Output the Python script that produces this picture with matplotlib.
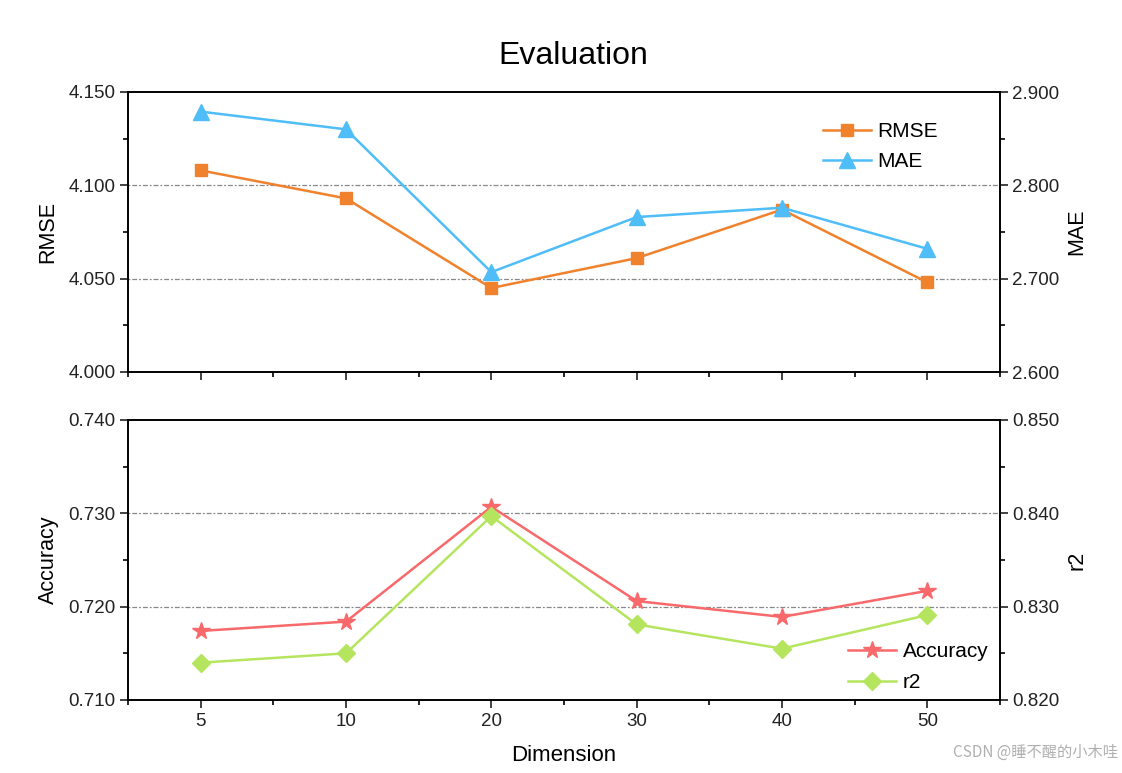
import matplotlib
matplotlib.use("Agg")
import matplotlib.pyplot as plt
from matplotlib.ticker import MultipleLocator, FormatStrFormatter

plt.rcParams['font.family'] = ['Liberation Sans', 'DejaVu Sans']

dims = ["5", "10", "20", "30", "40", "50"]
rmse = [4.108, 4.093, 4.045, 4.061, 4.087, 4.048]
mae = [2.879, 2.860, 2.707, 2.766, 2.776, 2.732]
accuracy = [0.7174, 0.7184, 0.7307, 0.7206, 0.7189, 0.7217]
r2 = [0.8240, 0.8250, 0.8397, 0.8281, 0.8255, 0.8291]

c_rmse = '#F0812D'
c_mae = '#4FBDF7'
c_acc = '#F8696B'
c_r2 = '#B5E55F'

fig = plt.figure(figsize=(11.22, 7.73), dpi=100)
L, R = 128 / 1122, 1000 / 1122
ax1 = fig.add_axes([L, 1 - 372 / 773, R - L, 280 / 773])
ax2 = fig.add_axes([L, 1 - 700 / 773, R - L, 280 / 773])
x = list(range(len(dims)))

def style(ax, twin, ylim, tylim, fmt="%.3f"):
    ax.set_xlim(-0.5, len(dims) - 0.5)
    ax.set_xticks(x)
    ax.xaxis.set_minor_locator(MultipleLocator(0.5))
    ax.set_ylim(*ylim)
    twin.set_ylim(*tylim)
    step = (ylim[1] - ylim[0]) / 3
    tstep = (tylim[1] - tylim[0]) / 3
    ax.yaxis.set_major_locator(MultipleLocator(step))
    ax.yaxis.set_minor_locator(MultipleLocator(step / 2))
    twin.yaxis.set_major_locator(MultipleLocator(tstep))
    twin.yaxis.set_minor_locator(MultipleLocator(tstep / 2))
    ax.yaxis.set_major_formatter(FormatStrFormatter(fmt))
    twin.yaxis.set_major_formatter(FormatStrFormatter(fmt))
    for a in (ax, twin):
        a.tick_params(which='major', direction='out', length=6, width=1.2,
                      labelsize=13.5, colors='#222222', pad=3)
        a.tick_params(which='minor', direction='out', length=3.5, width=1.2)
        for s in a.spines.values():
            s.set_linewidth(1.2)
    ax.tick_params(axis='x', which='minor', length=3.5)
    for v in [ylim[0] + step, ylim[0] + 2 * step]:
        ax.axhline(v, color='#888888', lw=0.9, ls=(0, (1.5, 1.5, 4, 1.5)), zorder=0)

t1 = ax1.twinx()
style(ax1, t1, (4.000, 4.150), (2.600, 2.900))
l1, = ax1.plot(x, rmse, color=c_rmse, marker='s', ms=9, lw=1.8, label='RMSE', zorder=3)
l2, = t1.plot(x, mae, color=c_mae, marker='^', ms=11, lw=1.8, label='MAE', zorder=3)
ax1.set_ylabel('RMSE', fontsize=15.5, labelpad=7)
t1.set_ylabel('MAE', fontsize=15.5, labelpad=5)
ax1.tick_params(axis='x', labelbottom=False)
t1.legend([l1, l2], ['RMSE', 'MAE'], loc='upper right', bbox_to_anchor=(0.95, 0.96),
          frameon=False, fontsize=15, handlelength=2.3, labelspacing=0.55, handletextpad=0.3)

t2 = ax2.twinx()
style(ax2, t2, (0.710, 0.740), (0.820, 0.850))
l3, = ax2.plot(x, accuracy, color=c_acc, marker='*', ms=13, lw=1.8, label='Accuracy', zorder=3)
l4, = t2.plot(x, r2, color=c_r2, marker='D', ms=9, lw=1.8, label='r2', zorder=3)
ax2.set_xticklabels(dims)
ax2.set_ylabel('Accuracy', fontsize=15.5, labelpad=7)
t2.set_ylabel('r2', fontsize=15.5, labelpad=5)
ax2.set_xlabel('Dimension', fontsize=16, labelpad=11)
t2.legend([l3, l4], ['Accuracy', 'r2'], loc='lower right', bbox_to_anchor=(1.008, -0.04),
          frameon=False, fontsize=15, handlelength=2.3, labelspacing=0.6, handletextpad=0.3)

fig.text((L + R) / 2 + 9 / 1122, 1 - 56 / 773, 'Evaluation', ha='center', va='center', fontsize=23)
fig.text(1118 / 1122, 1 - 752 / 773, 'CSDN @睡不醒的小木哇', ha='right', va='center',
         fontsize=11, color='#B0B0B0', family=['Noto Sans CJK SC', 'DejaVu Sans'])

fig.savefig('out.png', dpi=100)
